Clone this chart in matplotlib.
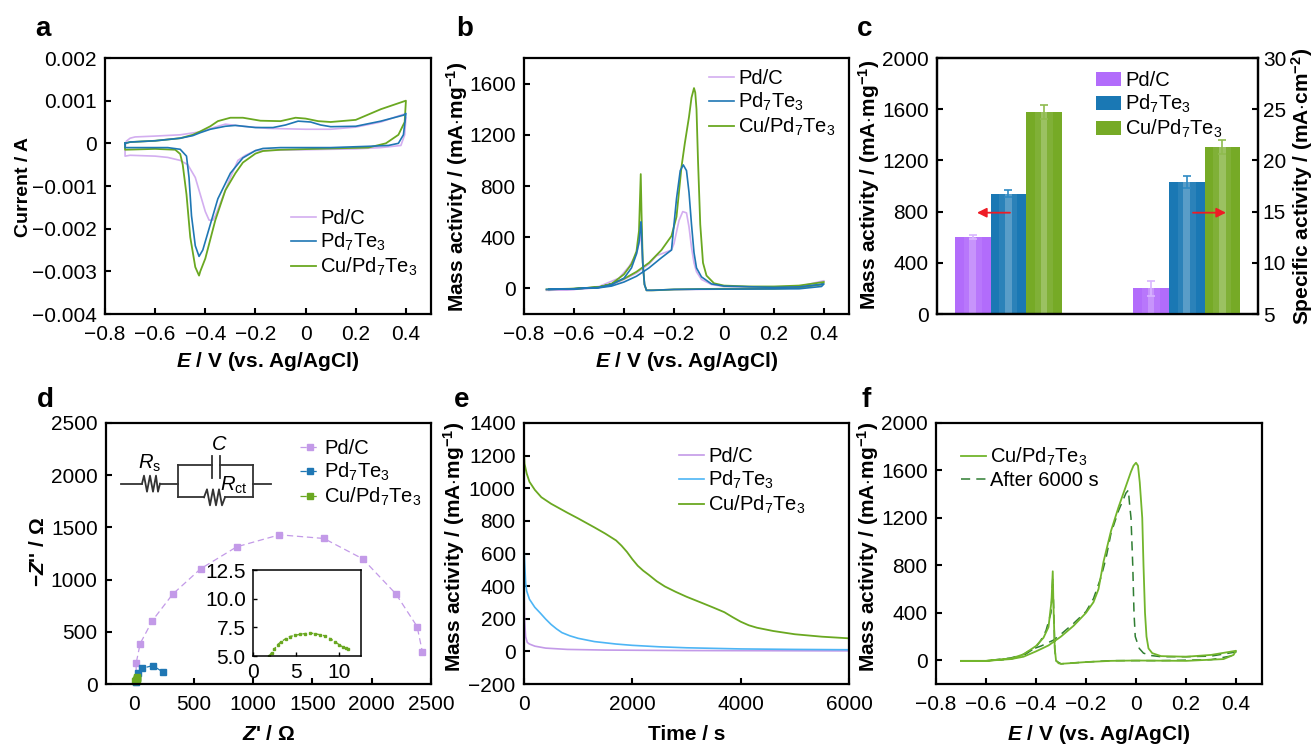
"""Six-panel electrochemistry figure: CV, mass activity, bars, EIS, chronoamperometry, stability."""
import matplotlib
matplotlib.use('Agg')
import matplotlib.pyplot as plt
from matplotlib.lines import Line2D

W, H = 1314, 746
plt.rcParams.update({
    'font.family': 'Liberation Sans', 'font.size': 15,
    'mathtext.fontset': 'custom', 'mathtext.rm': 'Liberation Sans',
    'mathtext.it': 'Liberation Sans:italic', 'mathtext.bf': 'Liberation Sans:bold',
    'mathtext.bfit': 'Liberation Sans:italic:bold', 'mathtext.default': 'regular',
    'axes.linewidth': 1.6, 'lines.solid_joinstyle': 'round',
    'xtick.direction': 'in', 'ytick.direction': 'in',
    'xtick.major.size': 4, 'ytick.major.size': 4,
    'xtick.major.width': 1.5, 'ytick.major.width': 1.5,
    'xtick.major.pad': 8, 'ytick.major.pad': 6,
})

# Colours
PURPLE = '#d3aef0'; BLUE = '#1f77b4'; GREEN = '#6aa821'
E_BLUE = '#4db5f5'; E_PURPLE = '#c39ae8'; F_GREEN = '#72b52c'; F_DARK = '#2f7d32'
BAR_P = '#b26cfb'; BAR_B = '#1a78b4'; BAR_G = '#76aa26'
NAMES = ['Pd/C', r'Pd$_7$Te$_3$', r'Cu/Pd$_7$Te$_3$']

# --- data: panel a, cyclic voltammograms (V, A) ---
a_pdc_x = [-0.72, -0.715, -0.70, -0.68, -0.6, -0.5, -0.42, -0.35, -0.32, -0.25, -0.15, 0, 0.1, 0.2, 0.3, 0.39, 0.40,
           0.395, 0.38, 0.3, 0.2, 0, -0.2, -0.24, -0.27, -0.30, -0.34, -0.36, -0.37, -0.385, -0.40, -0.42, -0.44, -0.47, -0.5,
           -0.55, -0.6, -0.7, -0.72, -0.72]
a_pdc_y = [-0.0001, 0.00005, 0.00012, 0.00015, 0.00017, 0.0002, 0.00027, 0.0004, 0.00045, 0.0004, 0.00035, 0.00033,
           0.00033, 0.00038, 0.0005, 0.00068, 0.0006, 0.0002, -0.00005, -0.0001, -0.00013, -0.00015, -0.00017, -0.00028, -0.0004,
           -0.0008, -0.0014, -0.0017, -0.0018, -0.0018, -0.0016, -0.0012, -0.0008, -0.0005, -0.0004, -0.00033, -0.0003,
           -0.00028, -0.0003, -0.0001]
a_pt_x = [-0.72, -0.7, -0.6, -0.5, -0.45, -0.42, -0.38, -0.32, -0.28, -0.2, -0.13, -0.08, -0.03, 0.02, 0.06, 0.1, 0.2,
          0.3, 0.39, 0.40, 0.39, 0.37, 0.33, 0.25, 0.1, -0.1, -0.17, -0.2, -0.25, -0.3, -0.35, -0.39, -0.41, -0.425, -0.44,
          -0.455, -0.465, -0.475, -0.5, -0.55, -0.7, -0.72, -0.72]
a_pt_y = [0.0, 0.00003, 0.00006, 0.00012, 0.00018, 0.00025, 0.00033, 0.0004, 0.00042, 0.00037, 0.00037, 0.00043,
          0.00052, 0.0005, 0.00043, 0.00039, 0.0004, 0.00052, 0.00066, 0.0007, 0.0002, 0.0, -0.00005, -0.00007, -0.0001,
          -0.0001, -0.00012, -0.00017, -0.00034, -0.0007, -0.0013, -0.0021, -0.0025, -0.00265, -0.0024, -0.0017, -0.0008, -0.0003,
          -0.00014, -0.0001, -0.0001, -0.0001, 0.0]
a_cu_x = [-0.72, -0.7, -0.6, -0.5, -0.45, -0.42, -0.38, -0.35, -0.3, -0.25, -0.18, -0.1, -0.04, 0, 0.05, 0.1, 0.2, 0.3,
          0.4, 0.395, 0.37, 0.32, 0.25, 0.1, -0.1, -0.17, -0.2, -0.25, -0.28, -0.32, -0.36, -0.4, -0.42, -0.425, -0.44, -0.46,
          -0.475, -0.49, -0.5, -0.52, -0.6, -0.72, -0.72]
a_cu_y = [0.0, 0.00003, 0.00006, 0.00012, 0.0002, 0.00028, 0.0004, 0.00052, 0.0006, 0.0006, 0.00053, 0.00052, 0.0006,
          0.00058, 0.00052, 0.0005, 0.00055, 0.0008, 0.001, 0.0005, 0.0002, 0.0, -0.0001, -0.00012, -0.00015, -0.00018, -0.00024,
          -0.00045, -0.0007, -0.0011, -0.0018, -0.0027, -0.003, -0.0031, -0.0029, -0.0022, -0.0012, -0.0005, -0.00025,
          -0.00015, -0.00013, -0.00015, 0.0]

# --- data: panel b, mass activity scans (V, mA/mg) ---
b_pdc_x = [-0.71, -0.6, -0.5, -0.45, -0.4, -0.35, -0.3, -0.27, -0.23, -0.21, -0.2, -0.19, -0.18, -0.165, -0.15, -0.14,
           -0.13, -0.12, -0.11, -0.09, -0.05, 0, 0.2, 0.3, 0.4, 0.39, 0.3, 0.1, -0.1, -0.2, -0.29, -0.31, -0.318, -0.325, -0.332,
           -0.35, -0.38, -0.42, -0.5, -0.6, -0.7]
b_pdc_y = [-15, -8, 5, 25, 70, 120, 190, 255, 285, 300, 350, 440, 530, 600, 590, 480, 320, 200, 130, 70, 30, 15, 8, 15,
           60, 30, 5, -3, -8, -10, -15, -15, 30, 200, 420, 270, 170, 80, 15, -8, -15]
b_pt_x = [-0.71, -0.6, -0.5, -0.45, -0.4, -0.35, -0.3, -0.25, -0.21, -0.205, -0.19, -0.175, -0.163, -0.15, -0.14, -0.13,
          -0.12, -0.11, -0.09, -0.05, 0, 0.2, 0.3, 0.4, 0.39, 0.3, 0.1, -0.1, -0.2, -0.29, -0.31, -0.318, -0.325, -0.33, -0.332,
          -0.34, -0.35, -0.37, -0.4, -0.45, -0.5, -0.6, -0.7]
b_pt_y = [-8, -3, 5, 18, 50, 95, 160, 240, 300, 400, 700, 920, 965, 920, 750, 500, 280, 160, 90, 35, 18, 8, 12, 35, 15,
          -3, -5, -6, -8, -15, -15, 30, 200, 450, 520, 360, 270, 160, 80, 30, 8, -3, -8]
b_cu_x = [-0.71, -0.6, -0.5, -0.45, -0.4, -0.35, -0.3, -0.25, -0.21, -0.19, -0.17, -0.157, -0.14, -0.13, -0.12, -0.115,
          -0.11, -0.104, -0.095, -0.084, -0.07, -0.04, 0, 0.1, 0.2, 0.3, 0.4, 0.39, 0.3, 0.2, 0, -0.1, -0.2, -0.28, -0.31,
          -0.318, -0.325, -0.33, -0.333, -0.34, -0.35, -0.37, -0.4, -0.45, -0.5, -0.6, -0.7]
b_cu_y = [-8, -3, 10, 35, 75, 130, 200, 300, 410, 560, 950, 1130, 1340, 1490, 1565, 1530, 1400, 1000, 500, 200, 100, 40,
          22, 15, 15, 22, 50, 30, 5, -2, -3, -5, -8, -15, -15, 30, 200, 600, 893, 450, 290, 190, 110, 35, 10, -2, -6]

# --- data: panel c, activities ---
c_groups = [0, 1]
c_mass = [600, 940, 1580]
c_mass_err = [16, 26, 55]
c_spec = [7.5, 17.9, 21.3]
c_spec_err = [0.7, 0.6, 0.65]

# --- data: panel d, Nyquist points (ohm) ---
d_pdc_x = [15, 14, 48, 151, 322, 557, 862, 1222, 1597, 1924, 2204, 2383, 2428]
d_pdc_y = [20, 198, 387, 607, 860, 1103, 1314, 1429, 1394, 1199, 863, 550, 304]
d_pt_x = [15, 22, 28, 62, 154, 240]
d_pt_y = [20, 55, 102, 150, 176, 115]
d_cu_x = [8, 12, 15, 18, 20, 22, 25]
d_cu_y = [25, 35, 42, 48, 52, 58, 68]
inset_x = [1.9, 2.2, 2.5, 2.9, 3.3, 3.8, 4.3, 4.9, 5.5, 6.0, 6.6, 7.2, 7.8, 8.4, 9.0, 9.5, 10, 10.4, 10.8, 11]
inset_y = [5.0, 5.3, 5.6, 6.0, 6.25, 6.5, 6.7, 6.8, 6.9, 6.95, 7.0, 6.95, 6.85, 6.75, 6.5, 6.25, 6.0, 5.8, 5.7, 5.65]

# --- data: panel e, chronoamperometry (s, mA/mg) ---
e_pdc_t = [0, 10, 30, 60, 100, 200, 400, 800, 1500, 3000, 6000]
e_pdc_j = [400, 200, 90, 55, 45, 32, 20, 12, 8, 5, 3]
e_pt_t = [0, 10, 30, 50, 100, 200, 300, 400, 500, 600, 700, 850, 1000, 1300, 1700, 2000, 2500, 3000, 4000, 5000, 6000]
e_pt_j = [640, 560, 420, 370, 320, 270, 235, 198, 165, 138, 115, 95, 80, 60, 45, 37, 28, 22, 15, 12, 10]
e_cu_t = [0, 10, 50, 100, 200, 320, 500, 800, 1000, 1300, 1500, 1700, 1800, 1900, 2000, 2100, 2200, 2300, 2450, 2600, 2800, 3000,
          3300, 3500, 3700, 3850, 4000, 4150, 4300, 4600, 5000, 5500, 6000]
e_cu_j = [1220, 1150, 1090, 1040, 990, 945, 905, 850, 815, 760, 722, 680, 648, 610, 565, 525, 495, 470, 430, 398, 365, 335,
          295, 268, 240, 210, 182, 160, 145, 125, 105, 90, 80]

# --- data: panel f, before and after stability test ---
f_new_x = [-0.7, -0.6, -0.5, -0.45, -0.4, -0.35, -0.3, -0.25, -0.2, -0.17, -0.15, -0.13, -0.1, -0.07, -0.04, -0.02, -0.01, 0,
           0.008, 0.015, 0.02, 0.025, 0.03, 0.036, 0.042, 0.05, 0.065, 0.1, 0.2, 0.3, 0.4, 0.39, 0.35, 0.2, 0, -0.1, -0.2, -0.3,
           -0.31, -0.32, -0.325, -0.33, -0.333, -0.338, -0.35, -0.37, -0.4, -0.45, -0.5, -0.6, -0.7]
f_new_y = [-5, -5, 10, 30, 75, 125, 200, 290, 400, 490, 600, 830, 1090, 1290, 1470, 1590, 1640, 1665, 1640, 1500, 1350, 1200,
           800, 400, 200, 100, 60, 35, 30, 45, 80, 45, 10, -5, -2, -5, -15, -30, -25, 0, 100, 450, 750, 500, 280, 190, 120,
           50, 15, -5, -5]
f_old_x = [-0.7, -0.6, -0.5, -0.45, -0.42, -0.38, -0.33, -0.3, -0.25, -0.2, -0.17, -0.14, -0.12, -0.1, -0.07, -0.04,
           -0.03, -0.028, -0.024, -0.02, -0.013, -0.008, -0.003, 0.013, 0.03, 0.06, 0.1, 0.2, 0.3, 0.4, 0.39, 0.3, 0.1, -0.1, -0.2,
           -0.3, -0.32, -0.325, -0.33, -0.333, -0.34, -0.36, -0.38, -0.4, -0.45, -0.5, -0.6, -0.7]
f_old_y = [-8, -5, 20, 50, 90, 120, 170, 220, 310, 410, 520, 700, 860, 1070, 1260, 1410, 1435, 1370, 1280, 1200, 800, 400,
           200, 100, 60, 40, 30, 30, 35, 70, 40, 5, -3, -3, -15, -30, -5, 100, 500, 690, 400, 250, 170, 110, 40, 10, -5, -8]

# tick values and labels
v_ticks = [-0.8, -0.6, -0.4, -0.2, 0, 0.2, 0.4]
v_labels = ['\u22120.8', '\u22120.6', '\u22120.4', '\u22120.2', '0', '0.2', '0.4']
a_yticks = [0.002, 0.001, 0, -0.001, -0.002, -0.003, -0.004]
a_ylabels = ['0.002', '0.001', '0', '\u22120.001', '\u22120.002', '\u22120.003', '\u22120.004']

E_LABEL = r'$\mathbfit{E}$ / V (vs. Ag/AgCl)'
MA_LABEL = r'Mass activity / (mA$\mathbf{\cdot}$mg$^{\mathbf{-1}}$)'


def axes_px(l, t, r, b):
    return fig.add_axes([l / W, 1 - b / H, (r - l) / W, (b - t) / H])


def labels(ax, xlabel, ylabel, x_top, y_base, y_mid, l, t, r, b, ysize=15):
    ax.set_xlabel(xlabel, fontweight='bold', fontsize=15, va='top')
    ax.xaxis.set_label_coords(0.5, (b - x_top) / (b - t))
    ax.set_ylabel(ylabel, fontweight='bold', fontsize=ysize)
    ax.yaxis.set_label_coords((y_base - l) / (r - l), (b - y_mid) / (b - t))


def px_line(xs, ys, **kw):
    fig.add_artist(Line2D([x / W for x in xs], [1 - y / H for y in ys], color='#333333', lw=1.3, **kw))


def legend(ax, x, y, handles, names=None, hlen=1.25):
    # x, y: upper-left corner in figure pixels
    if names is None:
        names = [h.get_label() for h in handles]
    return ax.legend(handles, names, loc='upper left', bbox_to_anchor=(x / W, 1 - y / H),
                     bbox_transform=fig.transFigure, frameon=False, fontsize=14.5, borderpad=0, borderaxespad=0,
                     handlelength=hlen, handletextpad=0.2, labelspacing=0.14)


fig = plt.figure(figsize=(W / 100, H / 100), dpi=100, facecolor='white')

# --- a ---
box = (105, 58, 431, 314)
ax = axes_px(*box)
la, = ax.plot(a_pdc_x, a_pdc_y, color=PURPLE, lw=1.2, label=NAMES[0])
lb, = ax.plot(a_pt_x, a_pt_y, color=BLUE, lw=1.2, label=NAMES[1], zorder=3)
lc, = ax.plot(a_cu_x, a_cu_y, color=GREEN, lw=1.3, label=NAMES[2], zorder=2.5)
ax.set_xlim(-0.8, 0.5); ax.set_ylim(-0.004, 0.002)
ax.set_xticks(v_ticks, v_labels); ax.set_yticks(a_yticks, a_ylabels)
labels(ax, E_LABEL, 'Current / A', 350, 32, 187, *box, ysize=14)
legend(ax, 291, 209, [la, lb, lc])

# --- b ---
box = (524, 58, 849, 314)
ax = axes_px(*box)
la, = ax.plot(b_pdc_x, b_pdc_y, color=PURPLE, lw=1.2, label=NAMES[0])
lb, = ax.plot(b_pt_x, b_pt_y, color=BLUE, lw=1.2, label=NAMES[1], zorder=3)
lc, = ax.plot(b_cu_x, b_cu_y, color=GREEN, lw=1.3, label=NAMES[2], zorder=2.5)
ax.set_xlim(-0.8, 0.5); ax.set_ylim(-200, 1800)
ax.set_xticks(v_ticks, v_labels); ax.set_yticks([0, 400, 800, 1200, 1600])
labels(ax, E_LABEL, MA_LABEL, 350, 470, 187, *box)
legend(ax, 709, 69, [la, lb, lc])

# --- c ---
box = (937, 58, 1258, 314)
ax = axes_px(*box)
ax2 = ax.twinx()
bar_w = 0.2
bar_cols = [BAR_P, BAR_B, BAR_G]
err_cols = ['#d9b5ff', '#2f8ac4', '#8fbb4f']
bars = []
for i, col in enumerate(bar_cols):
    off = (i - 1) * bar_w
    bars.append(ax.bar(c_groups[0] + off, c_mass[i], bar_w, color=col))
    ax.bar(c_groups[0] + off, c_mass[i], bar_w * 0.5, color='white', alpha=0.08)
    ax.bar(c_groups[0] + off, c_mass[i], bar_w * 0.18, color='white', alpha=0.22)
    ax.errorbar(c_groups[0] + off, c_mass[i], yerr=c_mass_err[i], color=err_cols[i], capsize=3, lw=1.2, capthick=1.2)
    ax2.bar(c_groups[1] + off, c_spec[i], bar_w, color=col)
    ax2.bar(c_groups[1] + off, c_spec[i], bar_w * 0.5, color='white', alpha=0.08)
    ax2.bar(c_groups[1] + off, c_spec[i], bar_w * 0.18, color='white', alpha=0.22)
    ax2.errorbar(c_groups[1] + off, c_spec[i], yerr=c_spec_err[i], color=err_cols[i], capsize=3, lw=1.2, capthick=1.2)
ax.set_xlim(-0.4, 1.4); ax.set_ylim(0, 2000); ax2.set_ylim(5, 30)
ax.set_xticks([]); ax.set_yticks([0, 400, 800, 1200, 1600, 2000])
ax2.set_yticks([5, 10, 15, 20, 25, 30])
ax2.tick_params(axis='y', pad=3.5)
labels(ax, '', MA_LABEL, 352, 882, 185, *box)
ax2.set_ylabel(r'Specific activity / (mA$\mathbf{\cdot}$cm$^{\mathbf{-2}}$)', fontweight='bold', fontsize=15, va='bottom')
ax2.yaxis.set_label_coords((1315 - 937) / 321, 0.5)
legend(ax2, 1096, 71, [b[0] for b in bars], NAMES)
for x0, x1 in [(1010, 977), (1193, 1226)]:
    ax2.annotate('', xy=(x1 / W, 1 - 212.7 / H), xytext=(x0 / W, 1 - 212.7 / H), xycoords='figure fraction',
                 textcoords='figure fraction', arrowprops=dict(arrowstyle='-|>', color='#ee1c25', lw=1.3, mutation_scale=14, shrinkA=0, shrinkB=0))

# --- d ---
box = (106, 423, 431, 684)
ax = axes_px(*box)
dkw = dict(ls=(0, (5, 3)), lw=0.9, marker='s', clip_on=False)
la, = ax.plot(d_pdc_x, d_pdc_y, color=E_PURPLE, ms=4, label=NAMES[0], **dkw)
lb, = ax.plot(d_pt_x, d_pt_y, color=BLUE, ms=4, label=NAMES[1], **dkw)
lc, = ax.plot(d_cu_x, d_cu_y, color=GREEN, ms=4.5, label=NAMES[2], **dkw)
ax.set_xlim(-240, 2500); ax.set_ylim(0, 2500)
ax.set_xticks([0, 500, 1000, 1500, 2000, 2500]); ax.set_yticks([0, 500, 1000, 1500, 2000, 2500])
labels(ax, "$\\mathbfit{Z}$' / \u03a9", "\u2212$\\mathbfit{Z}$'' / \u03a9", 725, 48, 552, *box)
legend(ax, 300, 439, [la, lb, lc], hlen=1.0)

ins = axes_px(252.7, 570, 360.7, 656)
ins.plot(inset_x, inset_y, color=GREEN, ls=(0, (3, 2)), lw=1, marker='s', ms=1.8)
ins.set_xlim(0, 12.5); ins.set_ylim(5, 12.5)
ins.set_xticks([0, 5, 10]); ins.set_yticks([5, 7.5, 10, 12.5], ['5.0', '7.5', '10.0', '12.5'])
ins.tick_params(width=1, length=3, pad=5)
for s in ins.spines.values():
    s.set_linewidth(1.1)

# equivalent circuit drawn in figure pixels
Y0 = 380 + 311 / 3
Y_TOP = 380 + 256 / 3
Y_BOT = 380 + 352 / 3
X_L = 535 / 3
X_R = 760 / 3
px_line([362 / 3, 142], [Y0, Y0])
px_line([142, 144, 147, 150, 153, 156, 158, 160], [Y0, Y0 - 8, Y0 + 8, Y0 - 8, Y0 + 8, Y0 - 8, Y0 + 8, Y0])
px_line([160, X_L], [Y0, Y0])
px_line([X_L, X_L], [Y_TOP, Y_BOT])
px_line([X_R, X_R], [Y_TOP, Y_BOT])
px_line([X_L, 636 / 3], [Y_TOP, Y_TOP])
px_line([660 / 3, X_R], [Y_TOP, Y_TOP])
px_line([636 / 3, 636 / 3], [380 + 228 / 3, 380 + 295 / 3])
px_line([660 / 3, 660 / 3], [380 + 228 / 3, 380 + 295 / 3])
px_line([X_L, 204], [Y_BOT, Y_BOT])
px_line([204, 207, 210, 213, 216, 219, 222, 225], [Y_BOT, Y_BOT - 8, Y_BOT + 8, Y_BOT - 8, Y_BOT + 8, Y_BOT - 8, Y_BOT + 8, Y_BOT])
px_line([225, X_R], [Y_BOT, Y_BOT])
px_line([X_R, 812 / 3], [Y0, Y0])
fig.text(150 / W, 1 - 469 / H, r'$\mathit{R}_{s}$', ha='center', va='baseline', fontsize=14.5)
fig.text(219.5 / W, 1 - 450 / H, r'$\mathit{C}$', ha='center', va='baseline', fontsize=14.5)
fig.text(234 / W, 1 - 491 / H, r'$\mathit{R}_{ct}$', ha='center', va='baseline', fontsize=14.5)

# --- e ---
box = (524, 423, 849, 684)
ax = axes_px(*box)
la, = ax.plot(e_pdc_t, e_pdc_j, color=E_PURPLE, lw=1.2, label=NAMES[0])
lb, = ax.plot(e_pt_t, e_pt_j, color=E_BLUE, lw=1.2, label=NAMES[1])
lc, = ax.plot(e_cu_t, e_cu_j, color=GREEN, lw=1.3, label=NAMES[2])
ax.set_xlim(0, 6000); ax.set_ylim(-200, 1400)
ax.set_xticks([0, 2000, 4000, 6000]); ax.set_yticks(range(-200, 1401, 200))
ax.set_yticklabels(['\u2212200', '0', '200', '400', '600', '800', '1000', '1200', '1400'])
labels(ax, 'Time / s', MA_LABEL, 725, 467, 547, *box)
legend(ax, 679, 447, [la, lb, lc])

# --- f ---
box = (936, 423, 1262, 684)
ax = axes_px(*box)
la, = ax.plot(f_new_x, f_new_y, color=F_GREEN, lw=1.3, label=NAMES[2], zorder=3)
lb, = ax.plot(f_old_x, f_old_y, color=F_DARK, lw=1.1, ls=(0, (6, 4)), label='After 6000 s', zorder=2.5)
ax.set_xlim(-0.8, 0.504); ax.set_ylim(-200, 2000)
ax.set_xticks(v_ticks, v_labels); ax.set_yticks([0, 400, 800, 1200, 1600, 2000])
labels(ax, E_LABEL, MA_LABEL, 723, 881, 547, *box)
legend(ax, 961, 446, [la, lb])

# panel letters
for s, x, y in [('a', 35, 36), ('b', 456, 36), ('c', 857, 36), ('d', 37, 407), ('e', 454, 407), ('f', 862, 407)]:
    fig.text(x / W, 1 - y / H, s, fontsize=20, fontweight='bold', ha='left', va='baseline')

fig.savefig('out.png', dpi=100, facecolor='white')
plt.close(fig)
